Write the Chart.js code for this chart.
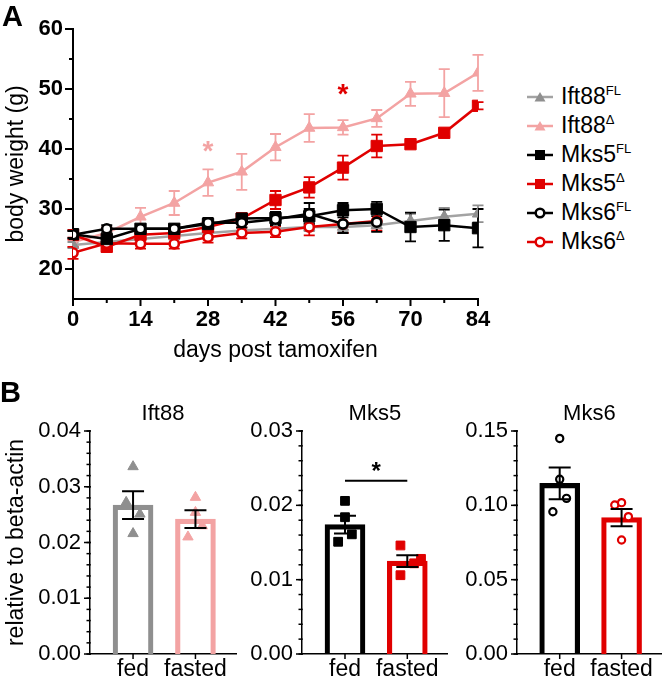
<!DOCTYPE html>
<html><head><meta charset="utf-8">
<script src="https://cdn.jsdelivr.net/npm/chart.js@4.4.1/dist/chart.umd.min.js"></script>
<style>
html,body{margin:0;padding:0;background:#fff;}
#wrap{position:relative;width:668px;height:683px;overflow:hidden;font-family:"Liberation Sans",Arial,sans-serif;background:#fff;}
canvas{position:absolute;}
.panel{position:absolute;font-weight:bold;font-size:29px;line-height:1;color:#000;}
#legend{position:absolute;left:526px;top:82px;font-size:23px;color:#000;}
.row{height:29px;display:flex;align-items:center;white-space:nowrap;}
.row svg{margin-right:7px;flex:none;}
.row sup{font-size:13px;vertical-align:0;position:relative;top:-9px;}
</style></head><body>
<div id="wrap">
<canvas id="cA" width="510" height="370" style="left:0;top:0"></canvas>
<div class="panel" style="left:2px;top:2px">A</div>
<div id="legend"></div>
<canvas id="cB1" width="243" height="313" style="left:0;top:370px"></canvas>
<canvas id="cB2" width="213" height="313" style="left:242px;top:370px"></canvas>
<canvas id="cB3" width="213" height="313" style="left:455px;top:370px"></canvas>
<div class="panel" style="left:0;top:378px">B</div>
</div>
<script>
// ---------------- Panel A data ----------------
const DAYS = [0, 7, 14, 21, 28, 35, 42, 49, 56, 63, 70, 77, 84];
const X_TICKS_A = [0, 14, 28, 42, 56, 70, 84];
const Y_TICKS_A = [20, 30, 40, 50, 60];

const IFT88_FL      = [24.0, 24.5, 25.0, 25.5, 26.0, 26.4, 26.7, 27.0, 27.0, 27.3, 28.0, 28.7, 29.2];
const IFT88_FL_SEM  = [0.5, 0.5, 0.5, 0.6, 0.6, 0.6, 0.7, 0.7, 0.8, 0.9, 1.2, 1.5, 1.4];
const IFT88_D       = [24.5, 26.0, 28.7, 31.0, 34.4, 36.2, 40.3, 43.5, 43.6, 45.1, 49.2, 49.3, 52.7];
const IFT88_D_SEM   = [0.8, 1.0, 1.5, 2.0, 2.2, 3.0, 2.2, 2.3, 1.2, 1.4, 2.0, 4.0, 3.0];
const MKS5_FL       = [25.8, 25.0, 26.7, 26.7, 27.5, 28.4, 28.5, 28.8, 29.8, 30.0, 27.0, 27.3, 26.8];
const MKS5_FL_SEM   = [0.6, 0.6, 0.5, 0.6, 0.8, 0.8, 1.0, 1.2, 1.2, 1.2, 2.4, 2.6, 3.2];
const MKS5_D        = [25.7, 23.7, 25.7, 26.0, 27.0, 28.4, 31.5, 33.6, 36.9, 40.5, 40.8, 42.7, 47.2];
const MKS5_D_SEM    = [0.8, 0.8, 0.6, 0.7, 0.8, 0.9, 1.5, 1.7, 2.0, 1.9, 0.6, 0.6, 0.6];
const MKS6_FL       = [25.7, 26.7, 26.7, 26.7, 27.7, 27.7, 28.3, 29.2, 27.5, 27.8, null, null, null];
const MKS6_FL_SEM   = [0.6, 0.6, 0.6, 0.6, 0.8, 0.8, 1.0, 1.8, 1.5, 1.6, null, null, null];
const MKS6_D        = [22.7, 24.3, 24.2, 24.2, 25.3, 26.0, 26.2, 27.0, 27.5, 28.0, null, null, null];
const MKS6_D_SEM    = [1.0, 0.8, 0.8, 0.8, 0.9, 0.9, 0.9, 1.4, 1.5, 1.6, null, null, null];

// significance marks (data coordinates)
const SIG_A_DAYS  = [28, 56];
const SIG_A_Y     = [40.4, 50.0];

// ---------------- Panel B data ----------------
const GROUPS = ['fed', 'fasted'];
const IFT88_FED    = [0.0336, 0.0272, 0.0251, 0.0216];
const IFT88_FASTED = [0.0281, 0.0254, 0.0230, 0.0210];
const IFT88_MEAN   = [0.0267, 0.0242];
const IFT88_SEM    = [0.0025, 0.0016];
const IFT88_Y_TICKS = [0, 0.01, 0.02, 0.03, 0.04];

const MKS5_FED     = [0.0206, 0.0184, 0.0151, 0.0161];
const MKS5_FASTED  = [0.0146, 0.0122, 0.0128, 0.0106];
const MKS5_MEAN    = [0.0174, 0.0125];
const MKS5_SEM     = [0.0012, 0.0008];
const MKS5_Y_TICKS = [0, 0.01, 0.02, 0.03];
const MKS5_SIG_Y   = 0.0233;

const MKS6_FED     = [0.145, 0.1175, 0.1047, 0.0957];
const MKS6_FASTED  = [0.1002, 0.1018, 0.0924, 0.0767];
const MKS6_MEAN    = [0.1148, 0.0917];
const MKS6_SEM     = [0.0107, 0.0058];
const MKS6_Y_TICKS = [0, 0.05, 0.10, 0.15];

// ---------------- styles ----------------
const FONT = '"Liberation Sans", Arial, Helvetica, sans-serif';
const GREY = '#8f8f8f', GREY_L = '#a3a3a3', PINK = '#f3a3a3', RED = '#e00000', BLACK = '#000000';
Chart.defaults.font.family = FONT;
Chart.defaults.color = '#000';
Chart.defaults.animation = false;

// jitter pattern for dots (fraction of category spacing), style only
const JIT = {
  ift88: [[0, -0.11, 0.11, 0], [0, 0, 0.11, -0.12]],
  mks5:  [[0, 0, -0.11, 0.11], [-0.11, 0.11, 0.22, -0.11]],
  mks6:  [[0, 0, 0.11, -0.11], [-0.11, 0, 0.11, 0]]
};

// --------- generic tick plugin ---------
const tickPlugin = {
  id: 'tk',
  afterDraw(chart, args, opts) {
    const ctx = chart.ctx;
    ctx.save();
    ctx.strokeStyle = '#000';
    (opts.axes || []).forEach(a => {
      const s = chart.scales[a.id];
      ctx.lineWidth = a.width;
      const draw = (v, len) => {
        const p = s.getPixelForValue(v);
        ctx.beginPath();
        if (a.id === 'y') { const x0 = s.right; ctx.moveTo(x0 - len, p); ctx.lineTo(x0 + a.width / 2, p); }
        else { const y0 = s.top; ctx.moveTo(p, y0 - a.width / 2); ctx.lineTo(p, y0 + len); }
        ctx.stroke();
      };
      a.major.forEach(v => draw(v, a.majLen));
      a.minor.forEach(v => draw(v, a.minLen));
    });
    ctx.restore();
  }
};

// --------- Panel A ---------
const SERIES = [
  {name: 'Ift88', sup: 'FL', data: IFT88_FL, sem: IFT88_FL_SEM, color: GREY, line: GREY_L, style: 'triangle', order: 4},
  {name: 'Ift88', sup: '\u0394', data: IFT88_D, sem: IFT88_D_SEM, color: PINK, line: PINK, style: 'triangle', order: 5},
  {name: 'Mks5', sup: 'FL', data: MKS5_FL, sem: MKS5_FL_SEM, color: BLACK, line: BLACK, style: 'rect', order: 1},
  {name: 'Mks5', sup: '\u0394', data: MKS5_D, sem: MKS5_D_SEM, color: RED, line: RED, style: 'rect', order: 3},
  {name: 'Mks6', sup: 'FL', data: MKS6_FL, sem: MKS6_FL_SEM, color: BLACK, line: BLACK, style: 'circle', order: 0},
  {name: 'Mks6', sup: '\u0394', data: MKS6_D, sem: MKS6_D_SEM, color: RED, line: RED, style: 'circle', order: 2}
];

const errPluginA = {
  id: 'errA',
  beforeDatasetsDraw(chart) {
    const ctx = chart.ctx, xs = chart.scales.x, ys = chart.scales.y;
    ctx.save();
    ctx.lineWidth = 1.8;
    chart.data.datasets.slice().sort((a, b) => b.order - a.order).forEach(ds => {
      ctx.strokeStyle = ds.errColor;
      ds.semArr.forEach((e, i) => {
        const v = ds.rawVals[i];
        if (v == null || e == null) return;
        const x = xs.getPixelForValue(DAYS[i]);
        const yt = ys.getPixelForValue(v + e), yb = ys.getPixelForValue(v - e);
        ctx.beginPath();
        ctx.moveTo(x, yt); ctx.lineTo(x, yb);
        ctx.moveTo(x - 5.5, yt); ctx.lineTo(x + 5.5, yt);
        ctx.moveTo(x - 5.5, yb); ctx.lineTo(x + 5.5, yb);
        ctx.stroke();
      });
    });
    ctx.restore();
  },
  afterDatasetsDraw(chart) {
    const ctx = chart.ctx, xs = chart.scales.x, ys = chart.scales.y;
    ctx.save();
    ctx.font = 'bold 28px ' + FONT;
    ctx.textAlign = 'center';
    ctx.textBaseline = 'middle';
    const cols = [PINK, RED];
    SIG_A_DAYS.forEach((d, i) => {
      ctx.fillStyle = cols[i];
      ctx.fillText('*', xs.getPixelForValue(d), ys.getPixelForValue(SIG_A_Y[i]) + 6);
    });
    ctx.restore();
  }
};

const minorRange = (a, b, step) => { const out = []; for (let v = a; v <= b + 1e-9; v += step) out.push(+v.toFixed(6)); return out; };

new Chart(document.getElementById('cA'), {
  type: 'line',
  data: {
    datasets: SERIES.map(s => ({
      label: s.name + s.sup,
      data: s.data.map((v, i) => ({x: DAYS[i], y: v})),
      rawVals: s.data, semArr: s.sem, errColor: s.color,
      borderColor: s.line, borderWidth: 2.5,
      pointStyle: s.style,
      pointRadius: s.style === 'rect' ? 8 : (s.style === 'triangle' ? 6.5 : 4.6),
      pointBorderWidth: s.style === 'circle' ? 2.6 : 1,
      pointBackgroundColor: s.style === 'circle' ? '#ffffff' : s.color,
      pointBorderColor: s.color,
      tension: 0, spanGaps: false, order: s.order
    }))
  },
  options: {
    responsive: false, animation: false,
    layout: {padding: {top: 29, right: 32, left: 0, bottom: 0}},
    plugins: {legend: {display: false}, tooltip: {enabled: false},
      tk: {axes: [
        {id: 'x', major: X_TICKS_A, minor: minorRange(7, 77, 14), majLen: 7, minLen: 4, width: 2},
        {id: 'y', major: Y_TICKS_A, minor: [25, 35, 45, 55], majLen: 8, minLen: 4, width: 2}
      ]}},
    scales: {
      x: {type: 'linear', min: 0, max: 84,
        afterFit: s => { s.height = 370 - 299; },
        afterBuildTicks: s => { s.ticks = X_TICKS_A.map(v => ({value: v})); },
        grid: {display: false, drawTicks: false},
        border: {display: true, color: '#000', width: 2},
        ticks: {font: {size: 22, weight: 'bold'}, padding: 8, color: '#000', maxRotation: 0, autoSkip: false},
        title: {display: true, text: 'days post tamoxifen', font: {size: 23}, padding: {top: 0, bottom: 6}, color: '#000'}
      },
      y: {type: 'linear', min: 15, max: 60,
        afterFit: s => { s.width = 73; },
        afterBuildTicks: s => { s.ticks = Y_TICKS_A.map(v => ({value: v})); },
        grid: {display: false, drawTicks: false},
        border: {display: true, color: '#000', width: 2},
        ticks: {font: {size: 22, weight: 'bold'}, padding: 10, color: '#000'},
        title: {display: true, text: 'body weight (g)', font: {size: 23}, padding: {top: 3, bottom: 0}, color: '#000'}
      }
    }
  },
  plugins: [errPluginA, tickPlugin]
});

// legend (HTML, built from SERIES)
(function () {
  const lg = document.getElementById('legend');
  SERIES.forEach(s => {
    let mk = '';
    if (s.style === 'triangle') mk = `<polygon points="14,2 19.5,11.5 8.5,11.5" fill="${s.color}"/>`;
    else if (s.style === 'rect') mk = `<rect x="9" y="2" width="10" height="10" fill="${s.color}"/>`;
    else mk = `<circle cx="14" cy="7" r="4.3" fill="#fff" stroke="${s.color}" stroke-width="2.5"/>`;
    const row = document.createElement('div');
    row.className = 'row';
    row.innerHTML = `<svg width="28" height="14" viewBox="0 0 28 14"><line x1="1" y1="7" x2="27" y2="7" stroke="${s.line}" stroke-width="2.5"/>${mk}</svg><span>${s.name}<sup>${s.sup}</sup></span>`;
    lg.appendChild(row);
  });
})();

// --------- Panel B ---------
function barPanel(id, o) {
  const errPlugin = {
    id: 'errB',
    afterDatasetsDraw(chart) {
      const ctx = chart.ctx, xs = chart.scales.x, ys = chart.scales.y;
      ctx.save();
      ctx.strokeStyle = '#000';
      ctx.lineWidth = 2;
      o.mean.forEach((m, i) => {
        const x = xs.getPixelForValue(i);
        const yt = ys.getPixelForValue(m + o.sem[i]), yb = ys.getPixelForValue(m - o.sem[i]);
        ctx.beginPath();
        ctx.moveTo(x, yt); ctx.lineTo(x, yb);
        ctx.moveTo(x - 11, yt); ctx.lineTo(x + 11, yt);
        ctx.moveTo(x - 11, yb); ctx.lineTo(x + 11, yb);
        ctx.stroke();
      });
      if (o.sig != null) {
        const x0 = xs.getPixelForValue(0), x1 = xs.getPixelForValue(1), y = ys.getPixelForValue(o.sig);
        ctx.lineWidth = 2;
        ctx.beginPath(); ctx.moveTo(x0, y); ctx.lineTo(x1, y); ctx.stroke();
        ctx.fillStyle = '#000';
        ctx.font = 'bold 24px ' + FONT;
        ctx.textAlign = 'center'; ctx.textBaseline = 'middle';
        ctx.fillText('*', (x0 + x1) / 2, y - 8);
      }
      ctx.restore();
    }
  };
  const dotDs = (vals, g) => ({
    type: 'scatter',
    data: vals.map((v, k) => ({x: g + o.jit[g][k], y: v})),
    pointStyle: o.style,
    pointRadius: o.style === 'circle' ? 3.6 : (o.style === 'triangle' ? 6 : 6.2),
    pointBorderWidth: o.style === 'circle' ? 2.2 : 1,
    pointBackgroundColor: o.style === 'circle' ? '#fff' : o.colors[g],
    pointBorderColor: o.colors[g],
    showLine: false, order: 1
  });
  const minors = [];
  for (let k = 0; k <= o.nMinor; k++) minors.push(+(k * o.minorStep).toFixed(6));
  new Chart(document.getElementById(id), {
    type: 'bar',
    data: {
      datasets: [
        {type: 'bar', data: GROUPS.map((g, i) => ({x: i, y: o.mean[i]})),
          backgroundColor: 'rgba(255,255,255,0)', borderColor: o.colors, borderWidth: 4.5,
          borderSkipped: 'start', barThickness: 40, order: 2},
        dotDs(o.fed, 0), dotDs(o.fasted, 1)
      ]
    },
    options: {
      responsive: false, animation: false,
      layout: {padding: {top: 0, right: o.padR, left: 0, bottom: 0}},
      plugins: {legend: {display: false}, tooltip: {enabled: false},
        title: {display: true, text: o.title, fullSize: false, font: {size: 22, weight: 'normal'}, color: '#000', padding: {top: 31, bottom: 3.6}},
        tk: {axes: [
          {id: 'x', major: [0, 1], minor: [], majLen: 5, minLen: 3, width: 1.5},
          {id: 'y', major: o.yTicks, minor: minors, majLen: 6, minLen: 3.5, width: 1.5}
        ]}},
      scales: {
        x: {type: 'linear', min: -0.69, max: 1.65, offset: false,
          afterFit: s => { s.height = 683 - 654; },
          afterBuildTicks: s => { s.ticks = GROUPS.map((g, i) => ({value: i})); },
          grid: {display: false, drawTicks: false},
          border: {display: true, color: '#000', width: 1.5},
          ticks: {font: {size: 23}, padding: 2, color: '#000', maxRotation: 0, autoSkip: false,
            callback: v => GROUPS[v]}
        },
        y: {type: 'linear', min: 0, max: o.yTicks[o.yTicks.length - 1],
          afterFit: s => { s.width = o.yWidth; },
          afterBuildTicks: s => { s.ticks = o.yTicks.map(v => ({value: v})); },
          grid: {display: false, drawTicks: false},
          border: {display: true, color: '#000', width: 1.5},
          ticks: {font: {size: 22}, padding: 9, color: '#000', callback: v => v.toFixed(2)},
          title: {display: !!o.yTitle, text: o.yTitle || '', font: {size: 23}, padding: {top: 3, bottom: 0}, color: '#000'}
        }
      }
    },
    plugins: [errPlugin, tickPlugin]
  });
}

barPanel('cB1', {title: 'Ift88', fed: IFT88_FED, fasted: IFT88_FASTED, mean: IFT88_MEAN, sem: IFT88_SEM,
  yTicks: IFT88_Y_TICKS, minorStep: 0.002, nMinor: 20, colors: [GREY, PINK], style: 'triangle',
  jit: JIT.ift88, yWidth: 90, padR: 3, yTitle: 'relative to beta-actin'});
barPanel('cB2', {title: 'Mks5', fed: MKS5_FED, fasted: MKS5_FASTED, mean: MKS5_MEAN, sem: MKS5_SEM,
  yTicks: MKS5_Y_TICKS, minorStep: 0.002, nMinor: 15, colors: [BLACK, RED], style: 'rect',
  jit: JIT.mks5, yWidth: 60, padR: 3, sig: MKS5_SIG_Y});
barPanel('cB3', {title: 'Mks6', fed: MKS6_FED, fasted: MKS6_FASTED, mean: MKS6_MEAN, sem: MKS6_SEM,
  yTicks: MKS6_Y_TICKS, minorStep: 0.01, nMinor: 15, colors: [BLACK, RED], style: 'circle',
  jit: JIT.mks6, yWidth: 62, padR: 1});
</script>
</body></html>
